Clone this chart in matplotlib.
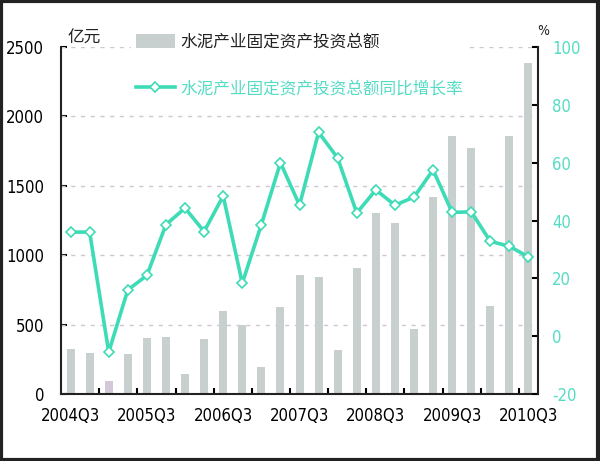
import matplotlib
matplotlib.use("Agg")
import matplotlib.pyplot as plt
from matplotlib.patches import Rectangle
from matplotlib import font_manager as fm

# ---- data ----
quarters = ["2004Q3", "2004Q4", "2005Q1", "2005Q2", "2005Q3", "2005Q4", "2006Q1", "2006Q2",
            "2006Q3", "2006Q4", "2007Q1", "2007Q2", "2007Q3", "2007Q4", "2008Q1", "2008Q2",
            "2008Q3", "2008Q4", "2009Q1", "2009Q2", "2009Q3", "2009Q4", "2010Q1", "2010Q2",
            "2010Q3"]
investment = [325, 295, 95, 288, 400, 412, 142, 396, 600, 500, 195, 630, 860, 845, 315, 905,
              1305, 1235, 468, 1420, 1860, 1770, 632, 1860, 2385]
growth = [36, 36, -5.5, 16, 21, 38.6, 44.3, 36.2, 48.5, 18.3, 38.6, 60, 45.3, 70.5, 61.6, 42.6,
          50.6, 45.3, 48.1, 57.5, 42.8, 43, 32.8, 31.1, 27.4]
xtick_labels = ["2004Q3", "2005Q3", "2006Q3", "2007Q3", "2008Q3", "2009Q3", "2010Q3"]
left_ticks = [0, 500, 1000, 1500, 2000, 2500]
right_ticks = [-20, 0, 20, 40, 60, 80, 100]
bar_label = "水泥产业固定资产投资总额"
line_label = "水泥产业固定资产投资总额同比增长率"

num_fp = fm.FontProperties(family="DejaVu Sans", stretch="condensed", size=12)
cjk = ["Noto Sans CJK SC", "DejaVu Sans"]
teal = "#3ddcb6"
teal_txt = "#55dcc4"
bar_col = "#c7cfcf"

fig = plt.figure(figsize=(6.0, 4.61), dpi=100)
fig.patch.set_facecolor("white")
ax = fig.add_axes([0.1017, 0.1453, 0.795, 0.7527])
ax2 = ax.twinx()

x = list(range(len(quarters)))
colors = [bar_col] * len(quarters)
colors[2] = "#d4c8d8"
bars = ax.bar(x, investment, width=0.42, color=colors, zorder=2, label=bar_label)
ax.set_ylim(0, 2500)
ax.set_xlim(-0.5, len(quarters) - 0.5)
ax.set_yticks(left_ticks)
ax.set_yticklabels([str(v) for v in left_ticks], fontproperties=num_fp)
for v in left_ticks[1:]:
    ax.axhline(v, color="#cfc6d0", lw=1.0, ls=(0, (3, 4)), zorder=1)
ax.set_axisbelow(True)

ax.set_xticks([i for i in x if i % 4 == 0])
ax.set_xticklabels(xtick_labels, fontproperties=num_fp)
ax.set_xticks([i + 0.5 for i in x if i % 2 == 1 and i < len(quarters) - 1], minor=True)
ax.tick_params(axis="x", which="major", length=0, pad=9)
ax.tick_params(axis="x", which="minor", direction="in", length=4, width=1.5)
ax.tick_params(axis="y", direction="in", length=4, width=1.5, pad=12)

line, = ax2.plot(x, growth, color=teal, lw=2.6, marker="D", ms=5.5, mfc="white",
                 mec=teal, mew=1.2, zorder=4, label=line_label)
ax2.set_ylim(-20, 100)
ax2.set_yticks(right_ticks)
ax2.set_yticklabels([str(v) for v in right_ticks], fontproperties=num_fp, color=teal_txt)
ax2.tick_params(axis="y", direction="in", length=4, width=1.5, pad=10)

for a in (ax, ax2):
    a.spines["top"].set_visible(False)
    for s in ("left", "right", "bottom"):
        a.spines[s].set_linewidth(1.5)
        a.spines[s].set_color("#222222")
ax.spines["right"].set_visible(False)
ax2.spines["left"].set_visible(False)
ax2.spines["bottom"].set_visible(False)

leg = ax2.legend([bars, line], [bar_label, line_label], loc="upper left",
                 bbox_to_anchor=(0.205, 0.955), bbox_transform=fig.transFigure,
                 prop={"family": cjk, "size": 12}, frameon=True, facecolor="white",
                 edgecolor="none", framealpha=1, fancybox=False, handlelength=2.3,
                 handleheight=0.9, handletextpad=0.35, labelspacing=1.75, borderpad=0.3)
leg.get_texts()[0].set_color("#222222")
leg.get_texts()[1].set_color(teal_txt)

fig.text(0.113, 0.918, "亿元", family=cjk, fontsize=12, ha="left", va="center", color="#222222")
fig.text(0.905, 0.932, "%", fontproperties=fm.FontProperties(family="DejaVu Sans", stretch="condensed", size=10),
         ha="center", va="center", color="#222222")

fig.patches.append(Rectangle((0.002, 0.003), 0.995, 0.994, transform=fig.transFigure,
                             fill=False, edgecolor="#222222", lw=3))

fig.savefig("out.png", dpi=100, facecolor="white")
